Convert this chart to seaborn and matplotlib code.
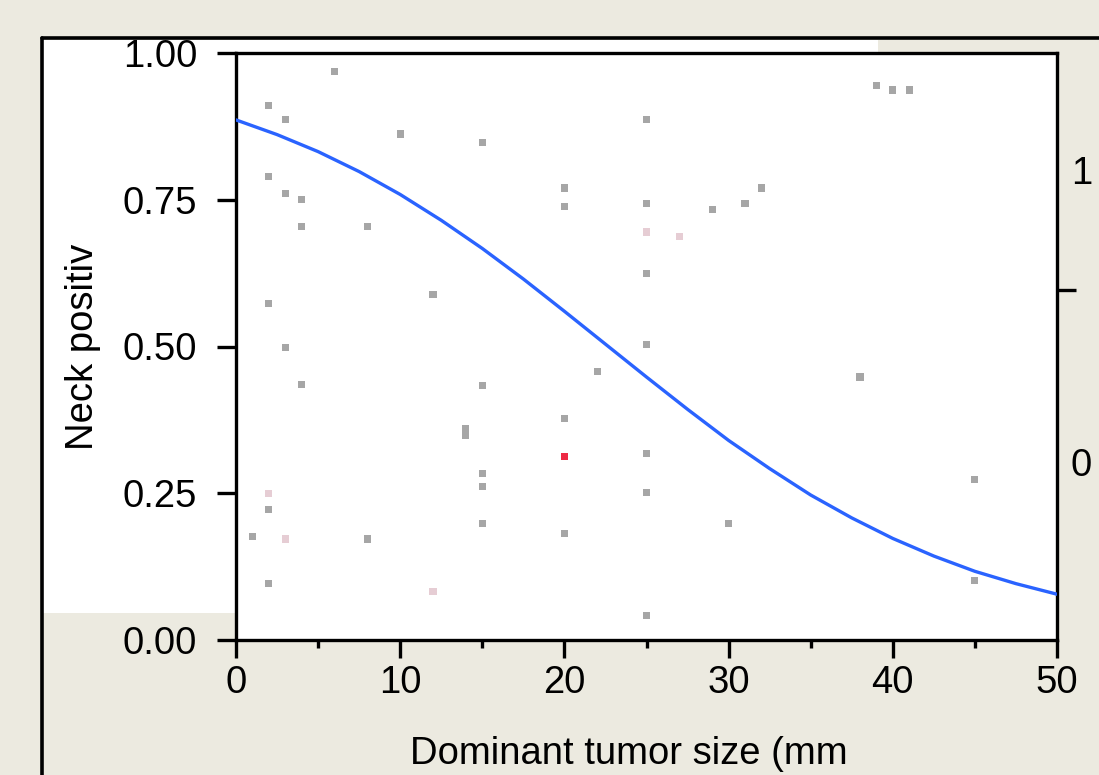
import numpy as np
import pandas as pd
import matplotlib
matplotlib.use("Agg")
import matplotlib.pyplot as plt
from matplotlib.patches import Rectangle
from matplotlib.lines import Line2D
import seaborn as sns

sns.set_style("white")
plt.rcParams['font.family'] = ['Liberation Sans', 'DejaVu Sans']
plt.rcParams['text.color'] = 'black'
plt.rcParams['axes.labelcolor'] = 'black'
plt.rcParams['xtick.color'] = 'black'
plt.rcParams['ytick.color'] = 'black'

# ------------------------------------------------------------
# data (jittered points + logistic fit)
# ------------------------------------------------------------
tumor_size = [2, 3, 6, 2, 3, 4, 4, 8, 10, 15, 12, 2, 3, 4, 2, 2, 1, 3, 8, 2,
              12, 14, 14, 15, 15, 15, 15, 20, 20, 20, 20, 20, 22, 25, 25, 25,
              27, 25, 25, 25, 25, 25, 29, 31, 32, 30, 38, 39, 40, 41, 45, 45]
jitter_y = [0.911, 0.886, 0.968, 0.790, 0.760, 0.751, 0.705, 0.705, 0.862, 0.847,
            0.589, 0.574, 0.499, 0.436, 0.249, 0.223, 0.177, 0.172, 0.172, 0.097,
            0.082, 0.360, 0.348, 0.434, 0.283, 0.262, 0.198, 0.770, 0.739, 0.378,
            0.312, 0.182, 0.458, 0.886, 0.744, 0.695, 0.688, 0.625, 0.504, 0.317,
            0.252, 0.041, 0.734, 0.744, 0.770, 0.198, 0.448, 0.945, 0.937, 0.937,
            0.273, 0.102]
point_group = ["g"] * len(tumor_size)
for i in (14, 17, 20, 35, 36):
    point_group[i] = "p"
point_group[30] = "r"

curve_x = [0, 2.5, 5, 7.5, 10, 12.5, 15, 17.5, 20, 22.5, 25, 27.5, 30,
           32.5, 35, 37.5, 40, 42.5, 45, 47.5, 50]
curve_p = [0.886, 0.861, 0.832, 0.798, 0.759, 0.715, 0.667, 0.615, 0.560, 0.504,
           0.448, 0.393, 0.340, 0.292, 0.247, 0.208, 0.173, 0.143, 0.117, 0.096,
           0.078]

y_ticks = [0.0, 0.25, 0.5, 0.75, 1.0]
x_ticks = [0, 10, 20, 30, 40, 50]
x_minor = [5, 15, 25, 35, 45]
right_split = 0.596
right_labels = {"1": 0.80, "0": 0.303}

pts = pd.DataFrame({"size": tumor_size, "y": jitter_y, "grp": point_group})
fit = pd.DataFrame({"size": curve_x, "p": curve_p})

# ------------------------------------------------------------
W, H = 1099, 775
beige = "#ECEAE0"
fs = 27.5
fig = plt.figure(figsize=(W / 100, H / 100), dpi=100, facecolor=beige)

def px(x0, y0, x1, y1):
    return (x0 / W, 1 - y1 / H, (x1 - x0) / W, (y1 - y0) / H)

# white panel pieces + frame lines (JMP-like window)
for box in [(42, 40, 236, 613), (42, 40, 878, 53)]:
    l, b, w, h = px(*box)
    fig.add_artist(Rectangle((l, b), w, h, transform=fig.transFigure,
                             facecolor="white", edgecolor="none", zorder=0))
fig.add_artist(Line2D([42 / W, 42 / W], [1 - 38 / H, 0], transform=fig.transFigure,
                      color="black", lw=2.6))
fig.add_artist(Line2D([42 / W, 1], [1 - 38 / H, 1 - 38 / H], transform=fig.transFigure,
                      color="black", lw=2.6))

ax = fig.add_axes([236 / W, 1 - 640 / H, (1057 - 236) / W, (640 - 53) / H])
ax.set_facecolor("white")

palette = {"g": "#A6A6A6", "p": "#E6CDD4", "r": "#EE2A44"}
sns.scatterplot(data=pts, x="size", y="y", hue="grp", palette=palette,
                marker="s", s=26, linewidth=0, legend=False, ax=ax, zorder=3)
sns.lineplot(data=fit, x="size", y="p", color="#2A63FF", linewidth=2.4, ax=ax, zorder=4)

ax.set_xlim(0, 50)
ax.set_ylim(0, 1)
ax.set_xticks(x_ticks)
ax.set_xticks(x_minor, minor=True)
ax.set_yticks(y_ticks)
ax.set_yticklabels([f"{v:.2f}" for v in y_ticks])
ax.tick_params(axis="x", which="major", direction="out", length=13, width=2.4,
               labelsize=fs, pad=5, bottom=True)
ax.tick_params(axis="x", which="minor", direction="out", length=6, width=2.4, bottom=True)
ax.tick_params(axis="y", which="major", direction="out", length=14, width=2.4,
               labelsize=fs, pad=14, left=True)
for sp in ax.spines.values():
    sp.set_visible(True)
    sp.set_color("black")
    sp.set_linewidth(2.4)

ax.set_xlabel("Dominant tumor size (mm", fontsize=fs)
ax.set_ylabel("Neck positiv", fontsize=fs)
ax.xaxis.set_label_coords(0.478, -0.163)
ax.yaxis.set_label_coords(-0.165, 0.5)

# right axis with response levels
ax2 = ax.twinx()
ax2.set_ylim(0, 1)
ax2.set_yticks([right_split])
ax2.set_yticklabels([""])
ax2.set_yticks(list(right_labels.values()), minor=True)
ax2.set_yticklabels(list(right_labels.keys()), minor=True)
ax2.tick_params(axis="y", which="major", direction="out", length=14, width=2.4, right=True)
ax2.tick_params(axis="y", which="minor", length=0, labelsize=fs, pad=10, right=True)
for sp in ax2.spines.values():
    sp.set_visible(False)

fig.savefig("out.png", dpi=100, facecolor=beige)
